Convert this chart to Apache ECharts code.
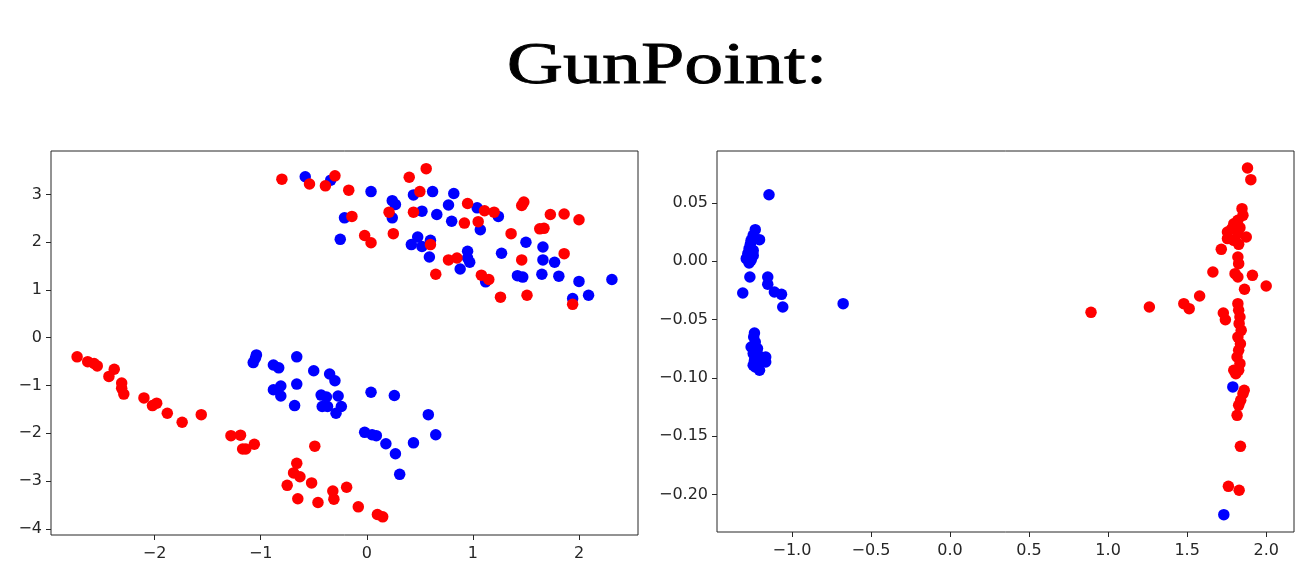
<!DOCTYPE html>
<html>
<head>
<meta charset="utf-8">
<script src="https://cdn.jsdelivr.net/npm/echarts@6/dist/echarts.min.js"></script>
<style>html,body{margin:0;padding:0;background:#fff}#c{width:1304px;height:577px}</style>
</head>
<body>
<div id="c"></div>
<script>
const titleText = 'GunPoint:';

const leftTicksX = [-2, -1, 0, 1, 2];
const leftTicksY = [-4, -3, -2, -1, 0, 1, 2, 3];
const rightTicksX = [-1.0, -0.5, 0.0, 0.5, 1.0, 1.5, 2.0];
const rightTicksY = [-0.20, -0.15, -0.10, -0.05, 0.00, 0.05];

const leftBlueX = [-0.58,-0.34,-0.21,-0.25,0.04,0.24,0.27,0.24,0.44,0.62,0.52,0.66,0.82,0.77,0.80,1.04,1.07,1.24,0.42,0.48,0.52,0.60,0.59,0.95,0.95,0.97,0.88,1.27,1.50,1.42,1.47,1.12,1.66,1.66,1.77,1.65,1.81,2.00,2.09,1.94,2.31,
 -1.04,-1.05,-1.07,-0.66,-0.88,-0.83,-0.50,-0.35,-0.30,-0.66,-0.81,-0.88,-0.81,-0.68,-0.43,-0.38,-0.27,-0.42,-0.37,-0.24,-0.29,0.04,0.26,0.58,0.65,-0.02,0.05,0.09,0.18,0.27,0.44,0.31];
const leftBlueY = [3.37,3.30,2.51,2.06,3.06,2.87,2.79,2.51,2.99,3.06,2.65,2.58,3.02,2.78,2.44,2.72,2.26,2.54,1.95,2.11,1.91,2.04,1.69,1.81,1.67,1.58,1.44,1.77,2.00,1.30,1.27,1.17,1.90,1.63,1.58,1.33,1.29,1.18,0.89,0.82,1.22,
 -0.36,-0.43,-0.52,-0.40,-0.57,-0.63,-0.69,-0.76,-0.90,-0.97,-1.01,-1.09,-1.22,-1.42,-1.20,-1.24,-1.22,-1.44,-1.44,-1.44,-1.58,-1.14,-1.21,-1.61,-2.03,-1.98,-2.03,-2.05,-2.22,-2.43,-2.20,-2.86];
const leftRedX = [-0.80,-0.54,-0.39,-0.30,-0.17,-0.14,-0.02,0.04,0.21,0.25,0.40,0.44,0.50,0.56,0.60,0.65,0.77,0.85,0.92,0.95,1.05,1.11,1.20,1.08,1.15,1.26,1.36,1.46,1.48,1.46,1.51,1.63,1.67,1.73,1.86,1.86,1.94,2.00,
 -2.73,-2.63,-2.57,-2.54,-2.38,-2.43,-2.31,-2.31,-2.29,-2.10,-2.02,-1.98,-1.88,-1.74,-1.56,-1.28,-1.19,-1.17,-1.14,-1.06,-0.49,-0.66,-0.69,-0.63,-0.75,-0.52,-0.65,-0.46,-0.32,-0.31,-0.19,-0.08,0.10,0.15];
const leftRedY = [3.32,3.22,3.18,3.39,3.09,2.54,2.14,1.99,2.63,2.18,3.36,2.63,3.06,3.54,1.95,1.33,1.63,1.67,2.40,2.81,2.43,2.66,2.63,1.31,1.22,0.85,2.18,2.77,2.84,1.63,0.89,2.28,2.29,2.58,2.59,1.76,0.70,2.47,
 -0.40,-0.50,-0.54,-0.59,-0.66,-0.81,-0.95,-1.06,-1.18,-1.26,-1.42,-1.37,-1.58,-1.77,-1.61,-2.05,-2.04,-2.33,-2.33,-2.23,-2.27,-2.63,-2.83,-2.91,-3.09,-3.04,-3.37,-3.45,-3.21,-3.38,-3.13,-3.54,-3.70,-3.75];

const rightBlueX = [-1.145,-1.232,-1.245,-1.205,-1.258,-1.263,-1.271,-1.245,-1.279,-1.245,-1.289,-1.258,-1.271,-1.266,-1.153,-1.153,-1.311,-1.111,-1.066,-1.058,-0.676,-1.237,-1.242,-1.232,-1.258,-1.218,-1.245,-1.205,-1.166,-1.237,-1.197,-1.166,-1.232,-1.205,-1.245,1.789,1.732];
const rightBlueY = [0.0572,0.0272,0.0223,0.0186,0.018,0.0146,0.0109,0.0094,0.0066,0.0051,0.0023,0.0009,-0.0014,-0.0134,-0.0134,-0.0197,-0.0272,-0.0263,-0.0283,-0.0392,-0.0363,-0.0615,-0.0649,-0.0692,-0.0735,-0.0749,-0.0792,-0.0815,-0.0821,-0.0850,-0.0864,-0.0864,-0.0907,-0.0935,-0.0892,-0.1078,-0.2174];
const rightRedX = [1.882,1.903,1.847,1.853,1.821,1.795,1.782,1.755,1.834,1.821,1.874,1.755,1.795,1.826,1.716,1.821,1.826,1.663,1.803,1.821,1.913,1.863,2.000,1.579,1.479,1.513,1.261,0.892,1.729,1.742,
 1.821,1.826,1.834,1.829,1.842,1.821,1.837,1.826,1.816,1.834,1.826,1.808,1.795,1.853,1.839,1.826,1.816,1.837,1.761,1.829,1.861];
const rightRedY = [0.0801,0.0701,0.0452,0.0395,0.0352,0.0323,0.0280,0.0252,0.0289,0.0237,0.0209,0.0195,0.0180,0.0146,0.0103,0.0037,-0.0020,-0.0092,-0.0106,-0.0134,-0.0120,-0.0240,-0.0212,-0.0297,-0.0363,-0.0406,-0.0392,-0.0438,-0.0443,-0.0501,
 -0.0363,-0.0420,-0.0478,-0.0535,-0.0592,-0.0650,-0.0707,-0.0764,-0.0821,-0.0878,-0.0935,-0.0964,-0.0935,-0.1136,-0.1193,-0.1236,-0.1322,-0.1588,-0.1931,-0.1965,-0.1107];

const pairs = (xs, ys) => xs.map((x, i) => [x, ys[i]]);
const fmt = d => v => {
  const s = Math.abs(v).toFixed(d);
  return (v < -1e-9 ? '\u2212' : '') + s;
};

const labelStyle = { color: '#262626', fontFamily: 'DejaVu Sans', fontSize: 16 };
function axis(gridIndex, min, max, ticks, dec, isX) {
  return {
    type: 'value', gridIndex, min, max,
    position: isX ? 'bottom' : 'left',
    axisLine: { show: false, onZero: false },
    splitLine: { show: false },
    axisTick: { show: true, inside: false, length: 5, lineStyle: { color: '#262626', width: 1 }, customValues: ticks },
    axisLabel: Object.assign({ margin: isX ? 11 : 9, formatter: fmt(dec), customValues: ticks, showMinLabel: true, showMaxLabel: true }, labelStyle)
  };
}

const dot = 11.5;
const chart = echarts.init(document.getElementById('c'), null, { renderer: 'canvas' });
chart.setOption({
  animation: false,
  backgroundColor: '#fff',
  graphic: [{
    type: 'text', x: 667, y: 67, scaleX: 1.3, scaleY: 1,
    style: { text: titleText, fontSize: 60, fontFamily: 'Liberation Serif', fill: '#000', stroke: '#000', lineWidth: 0.8, textAlign: 'center', textVerticalAlign: 'middle' }
  }],
  grid: [
    { left: 51, top: 151, width: 587, height: 384, show: true, borderColor: '#262626', borderWidth: 1, backgroundColor: 'transparent' },
    { left: 717, top: 151, width: 577, height: 381, show: true, borderColor: '#262626', borderWidth: 1, backgroundColor: 'transparent' }
  ],
  xAxis: [
    axis(0, -2.976, 2.556, leftTicksX, 0, true),
    axis(1, -1.474, 2.176, rightTicksX, 1, true)
  ],
  yAxis: [
    axis(0, -4.13, 3.91, leftTicksY, 0, false),
    axis(1, -0.2323, 0.0947, rightTicksY, 2, false)
  ],
  series: [
    { type: 'scatter', xAxisIndex: 0, yAxisIndex: 0, data: pairs(leftBlueX, leftBlueY), symbolSize: dot, itemStyle: { color: '#0000ff', opacity: 1 } },
    { type: 'scatter', xAxisIndex: 0, yAxisIndex: 0, data: pairs(leftRedX, leftRedY), symbolSize: dot, itemStyle: { color: '#ff0000', opacity: 1 } },
    { type: 'scatter', xAxisIndex: 1, yAxisIndex: 1, data: pairs(rightBlueX, rightBlueY), symbolSize: dot, itemStyle: { color: '#0000ff', opacity: 1 } },
    { type: 'scatter', xAxisIndex: 1, yAxisIndex: 1, data: pairs(rightRedX, rightRedY), symbolSize: dot, itemStyle: { color: '#ff0000', opacity: 1 } }
  ]
});
</script>
</body>
</html>
